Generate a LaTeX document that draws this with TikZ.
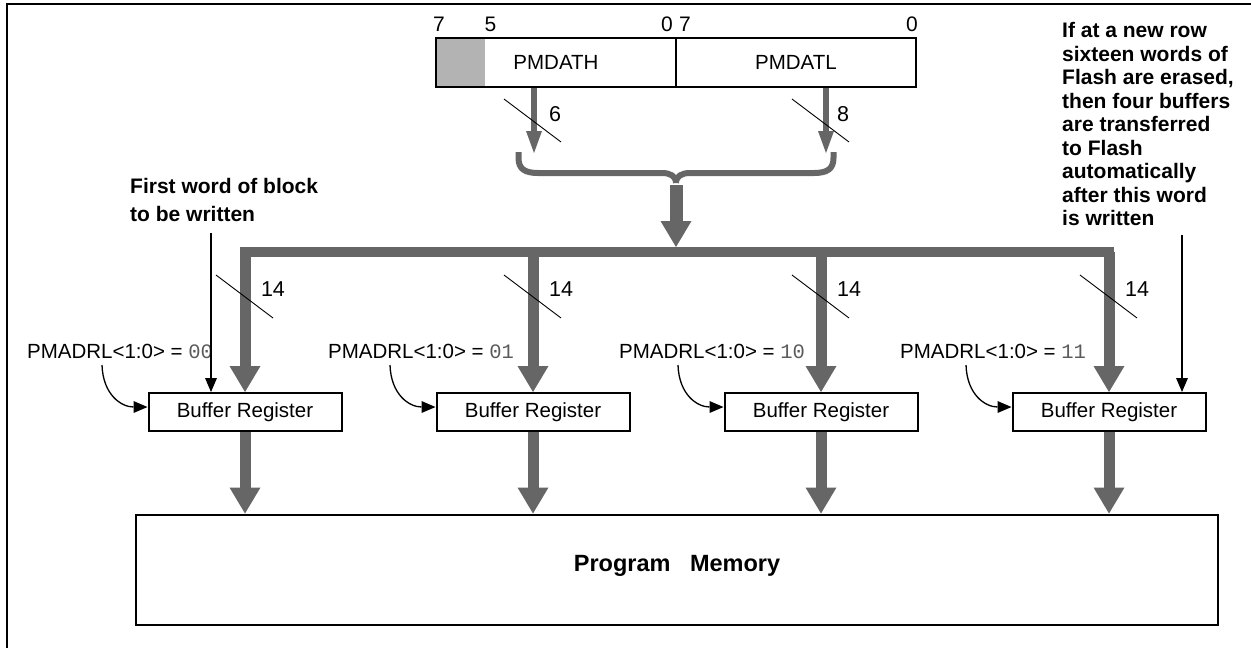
\documentclass[tikz,border=0pt]{standalone}
\usepackage{fontspec}
\setmainfont{Liberation Sans}
\setmonofont{Liberation Mono}
\usepackage{xcolor}
\usetikzlibrary{arrows.meta,positioning}
\definecolor{busgray}{HTML}{666666}
\definecolor{bitgray}{HTML}{B3B3B3}
\definecolor{valgray}{HTML}{5A5A5A}
\newcommand{\adrval}[1]{{\color{valgray}\ttfamily #1}}

\begin{document}
\begin{tikzpicture}[
  x=1pt, y=-1pt,
  every node/.style={font=\fontsize{20.5}{24}\selectfont, inner sep=0pt},
  regbox/.style={draw, line width=2pt, minimum width=240pt, minimum height=49pt},
  bufbox/.style={draw, line width=2pt, minimum width=193pt, minimum height=38pt},
  membox/.style={draw, line width=2pt, minimum width=1082pt, minimum height=110pt,
                 font=\fontsize{23.5}{26}\selectfont\bfseries,
                 text height=17pt, text depth=14pt},
  bitno/.style={font=\fontsize{21}{24}\selectfont},
  widthno/.style={font=\fontsize{21.5}{24}\selectfont},
  note/.style={font=\fontsize{21}{23.5}\selectfont\bfseries, align=left},
  bus/.style={draw=busgray, line width=11pt,
              -{Triangle[length=26pt,width=31pt,line width=0pt]}},
  subbus/.style={draw=busgray, line width=6pt,
                 -{Triangle[length=22pt,width=16pt,line width=0pt]}},
  busline/.style={draw=busgray, line width=10pt, line cap=rect},
  brace/.style={draw=busgray, line width=6pt},
  slash/.style={draw, line width=0.9pt},
  pointer/.style={draw, line width=1.3pt,
                  -{Triangle[length=14pt,width=12pt,line width=0pt]}},
]
  \useasboundingbox (0,0) rectangle (1251,648);
  \draw[line width=2pt] (1251,4) -- (7,4) -- (7,648);

  % data latches
  \fill[bitgray] (436,38) rectangle (485,87);
  \node[regbox] (pmdath) at (556,62.5) {PMDATH};
  \node[regbox] (pmdatl) at (796,62.5) {PMDATL};
  \node[bitno] (bith7) at (439,24) {7};
  \node[bitno] (bith5) at (490.5,24) {5};
  \node[bitno] (bith0) at (667,24) {0};
  \node[bitno] (bitl7) at (685,24) {7};
  \node[bitno] (bitl0) at (912,24) {0};

  \coordinate (hin) at (534,153);
  \coordinate (lin) at (826,153);
  \draw[subbus] (pmdath.south -| hin) -- (hin);
  \draw[subbus] (pmdatl.south -| lin) -- (lin);
  \draw[slash] (504,99) -- (561,142);
  \draw[slash] (792,99) -- (849,142);
  \node[widthno] (w6) at (555,114) {6};
  \node[widthno] (w8) at (843,114) {8};

  \coordinate (brace) at (676,183);
  \draw[brace] (518.5,152) -- (518.5,158) .. controls (518.5,169) and (525,173) .. (538,173)
    -- (662,173) .. controls (670,173) and (676,176) .. (brace);
  \draw[brace] (833.5,152) -- (833.5,158) .. controls (833.5,169) and (827,173) .. (814,173)
    -- (690,173) .. controls (682,173) and (676,176) .. (brace);

  \coordinate (bustop) at (676,247);
  \draw[bus, line width=13pt] ([yshift=-2pt]brace) -- (bustop);

  % write buffers
  \coordinate (busl) at (245,252);
  \coordinate (busr) at (1109,252);
  \draw[busline] (busl) -- (busr);
  \foreach \i/\x in {1/245,2/533,3/821,4/1109} {
    \node[bufbox] (buf\i) at (\x,412) {Buffer Register};
    \draw[bus] (buf\i.north |- busl) -- (buf\i.north);
    \draw[slash] (\x-29,275) -- (\x+28,318);
    \node[widthno] (w14\i) at (\x+28,289) {14};
    \coordinate (sel\i) at (\x-143,365);
    \draw[pointer] (sel\i) .. controls +(1,30) and +(-26,0) .. ([yshift=5pt]buf\i.west);
  }
  \node[anchor=west] (adr1) at (27,351) {PMADRL<1:0> = \adrval{00}};
  \node[anchor=west] (adr2) at (328,351) {PMADRL<1:0> = \adrval{01}};
  \node[anchor=west] (adr3) at (619,351) {PMADRL<1:0> = \adrval{10}};
  \node[anchor=west] (adr4) at (900,351) {PMADRL<1:0> = \adrval{11}};

  \node[note, anchor=west, font=\fontsize{21}{27.3}\selectfont\bfseries] (first) at (130,200)
    {First word of block\\to be written};
  \coordinate (firstend) at (211,233);
  \draw[pointer] (firstend) -- (firstend |- buf1.north);

  \node[note, anchor=west] (auto) at (1062,124)
    {If at a new row\\sixteen words of\\Flash are erased,\\then four buffers\\are transferred\\to Flash\\automatically\\after this word\\is written};
  \coordinate (autoend) at (1182,235);
  \draw[pointer] (autoend) -- (autoend |- buf4.north);

  % flash array
  \node[membox] (mem) at (677,569.5) {Program\ \ \ Memory};
  \foreach \i in {1,...,4}
    \draw[bus] (buf\i.south) -- (buf\i.south |- mem.north);
\end{tikzpicture}
\end{document}
